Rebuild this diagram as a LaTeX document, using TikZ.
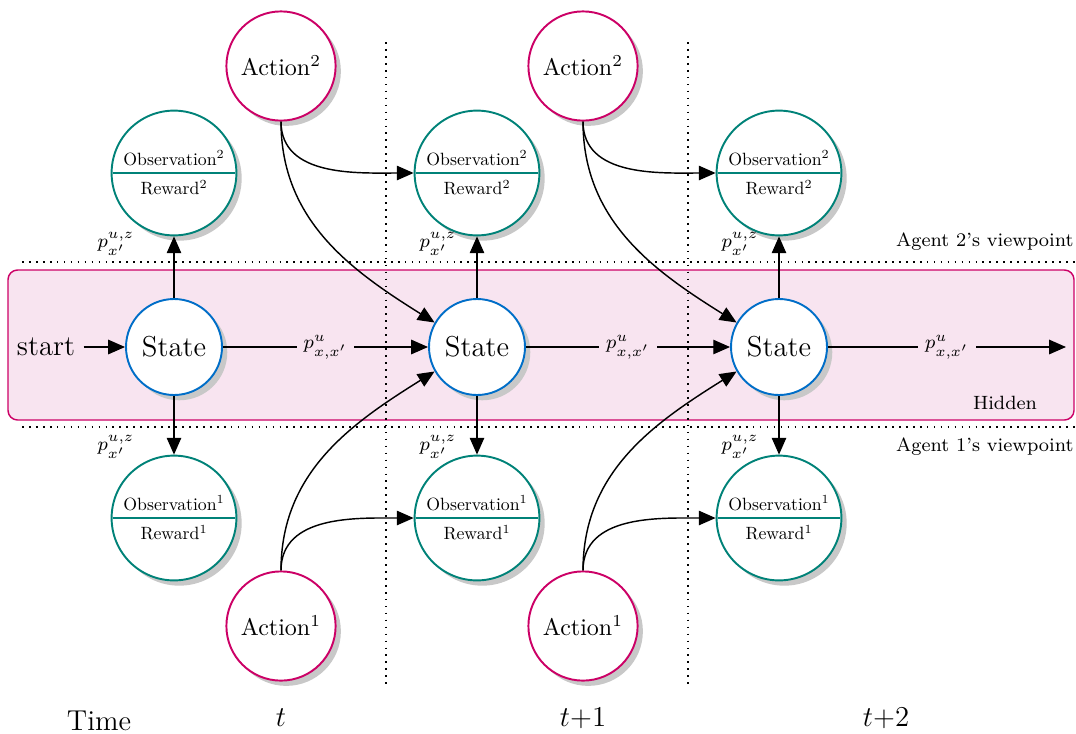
\documentclass[tikz,border=0pt]{standalone}
\usetikzlibrary{shapes.multipart,shadows,arrows.meta}
\definecolor{actcol}{RGB}{204,0,102}
\definecolor{statecol}{RGB}{0,110,200}
\definecolor{obscol}{RGB}{0,130,120}
\definecolor{pinkfill}{RGB}{248,228,240}
\definecolor{shadowcol}{RGB}{200,200,200}
\newcommand\obstxt[1]{\scalebox{0.74}{#1}}
\tikzset{
  myshadow/.style={drop shadow={shadow xshift=2.2pt,shadow yshift=-2.2pt,fill=shadowcol,opacity=1}},
  actnode/.style={circle,draw=actcol,thick,fill=white,minimum size=45.5pt,inner sep=0pt,myshadow},
  statenode/.style={circle,draw=statecol,thick,fill=white,minimum size=40pt,inner sep=0pt,font=\large,myshadow},
  obsnode/.style={circle split,draw=obscol,thick,fill=white,minimum size=52pt,inner xsep=1pt,inner ysep=2.6pt,myshadow},
  arr/.style={semithick,-{Triangle[length=7pt,width=6pt]}},
  dotline/.style={line width=0.7pt,dash pattern=on 0.7pt off 2.2pt},
  plabel/.style={inner sep=1pt,font=\footnotesize},
  hlabel/.style={inner xsep=3pt,inner ysep=1pt,font=\footnotesize,fill=pinkfill},
  small/.style={font=\footnotesize,inner sep=0pt}
}
\begin{document}
\begin{tikzpicture}[x=0.41667pt,y=-0.41667pt]
\useasboundingbox (0,0) rectangle (1076,733);
% hidden box
\draw[actcol,line width=0.6pt,fill=pinkfill,rounded corners=4pt] (8,270) rectangle (1074,420);
% dotted lines
\draw[dotline] (22,262) -- (1076,262);
\draw[dotline] (22,427) -- (1076,427);
\draw[dotline] (386,42) -- (386,688);
\draw[dotline] (688,42) -- (688,688);
% texts
\node[small,anchor=east] (ag2) at (1074,242) {Agent 2's viewpoint};
\node[small,anchor=east] (ag1) at (1074,447) {Agent 1's viewpoint};
\node[small] (hid) at (1005,403) {Hidden};
\node[font=\large] (start) at (46,347) {start};
\node[font=\large] (time) at (99,721) {Time};
\node[font=\large] (t0) at (281,718) {$t$};
\node[font=\large] (t1) at (583,718) {$t{+}1$};
\node[font=\large] (t2) at (886,718) {$t{+}2$};
% state nodes
\node[statenode] (s1) at (174,347) {State};
\node[statenode] (s2) at (477,347) {State};
\node[statenode] (s3) at (779,347) {State};
\coordinate (send) at (1066,347);
% observation nodes
\node[obsnode] (oa1) at (174,173) {\obstxt{Observation$^2$}\nodepart{lower}\obstxt{Reward$^2$}};
\node[obsnode] (oa2) at (477,173) {\obstxt{Observation$^2$}\nodepart{lower}\obstxt{Reward$^2$}};
\node[obsnode] (oa3) at (779,173) {\obstxt{Observation$^2$}\nodepart{lower}\obstxt{Reward$^2$}};
\node[obsnode] (ob1) at (174,518) {\obstxt{Observation$^1$}\nodepart{lower}\obstxt{Reward$^1$}};
\node[obsnode] (ob2) at (477,518) {\obstxt{Observation$^1$}\nodepart{lower}\obstxt{Reward$^1$}};
\node[obsnode] (ob3) at (779,518) {\obstxt{Observation$^1$}\nodepart{lower}\obstxt{Reward$^1$}};
% action nodes
\node[actnode] (aa1) at (281,66) {Action$^2$};
\node[actnode] (aa2) at (583,66) {Action$^2$};
\node[actnode] (ab1) at (281,626) {Action$^1$};
\node[actnode] (ab2) at (583,626) {Action$^1$};
% arrows
\draw[arr] (start) -- (s1);
\draw[arr] (s1) -- node[hlabel] (l1) {$p^{u}_{x,x'}$} (s2);
\draw[arr] (s2) -- node[hlabel] (l2) {$p^{u}_{x,x'}$} (s3);
\draw[arr] (s3) -- node[hlabel] (l3) {$p^{u}_{x,x'}$} (send);
\foreach \s/\a/\b in {s1/oa1/ob1,s2/oa2/ob2,s3/oa3/ob3}{
  \draw[arr] (\s) -- (\a);
  \draw[arr] (\s) -- (\b);
}
\node[plabel] (pa1) at (116,244) {$p^{u,z}_{x'}$};
\node[plabel] (pa2) at (438,244) {$p^{u,z}_{x'}$};
\node[plabel] (pa3) at (740,244) {$p^{u,z}_{x'}$};
\node[plabel] (pb1) at (116,447) {$p^{u,z}_{x'}$};
\node[plabel] (pb2) at (438,447) {$p^{u,z}_{x'}$};
\node[plabel] (pb3) at (740,447) {$p^{u,z}_{x'}$};
% action curves
\draw[arr] (aa1.south) to[out=-90,in=180] (oa2.west);
\draw[arr] (aa1.south) to[out=-90,in=148] (s2.150);
\draw[arr] (aa2.south) to[out=-90,in=180] (oa3.west);
\draw[arr] (aa2.south) to[out=-90,in=148] (s3.150);
\draw[arr] (ab1.north) to[out=90,in=180] (ob2.west);
\draw[arr] (ab1.north) to[out=90,in=-148] (s2.210);
\draw[arr] (ab2.north) to[out=90,in=180] (ob3.west);
\draw[arr] (ab2.north) to[out=90,in=-148] (s3.210);
\end{tikzpicture}
\end{document}
